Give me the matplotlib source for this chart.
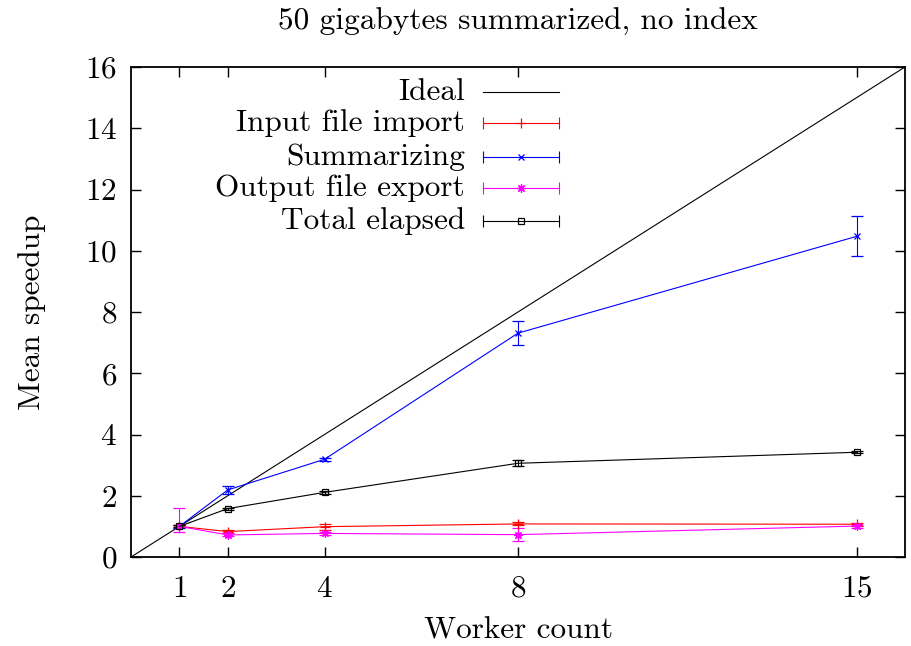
import numpy as np
import matplotlib
matplotlib.use('Agg')
import matplotlib.pyplot as plt

plt.rcParams['font.family'] = ['cmr10', 'DejaVu Serif']
plt.rcParams['axes.formatter.use_mathtext'] = True
plt.rcParams['mathtext.fontset'] = 'cm'

workers = [1, 2, 4, 8, 15]
ideal_x = [0, 16]

input_import = [1.0, 0.83, 0.99, 1.08, 1.07]
input_err = [0.05, 0.05, 0.10, 0.05, 0.05]

summarizing = [1.0, 2.19, 3.19, 7.31, 10.47]
summ_err = [0.05, 0.12, 0.05, 0.40, 0.65]

output_export = [1.0, 0.72, 0.77, 0.73, 1.01]
out_err_lo = [0.17, 0.05, 0.05, 0.22, 0.05]
out_err_hi = [0.61, 0.05, 0.05, 0.22, 0.05]

total = [1.0, 1.58, 2.11, 3.06, 3.42]
total_err = [0.03, 0.03, 0.05, 0.10, 0.04]

labels = ['Ideal', 'Input file import', 'Summarizing', 'Output file export', 'Total elapsed']

fs = 22.5
fig = plt.figure(figsize=(9.12, 6.46), dpi=100)
ax = fig.add_axes([131/912, 1-557/646, (905-131)/912, (557-67)/646])

lw = 0.8
ax.plot(ideal_x, ideal_x, color='black', lw=lw)

series = [
    (input_import, [input_err, input_err], '#ff0000', '+', 7, 'full'),
    (summarizing, [summ_err, summ_err], '#0000ff', 'x', 5, 'full'),
    (output_export, [out_err_lo, out_err_hi], '#ff00ff', (8, 2, 0), 6, 'full'),
    (total, [total_err, total_err], 'black', 's', 5, 'none'),
]
for vals, err, col, mk, ms, fill in series:
    ax.errorbar(workers, vals, yerr=err, color=col, lw=lw, elinewidth=lw,
                capsize=4, capthick=lw, marker=mk, ms=ms, mew=0.9,
                fillstyle=fill, mfc='none' if fill == 'none' else col)

# gnuplot-style key
rows = [0.9496, 0.886, 0.8163, 0.753, 0.6857]
key_cols = ['black', '#ff0000', '#0000ff', '#ff00ff', 'black']
key_mk = [None, '+', 'x', (8, 2, 0), 's']
key_ms = [0, 7, 5, 6, 5]
for i, lab in enumerate(labels):
    y = rows[i]
    ax.text(0.4315, y, lab, transform=ax.transAxes, ha='right', va='center', fontsize=fs)
    ax.plot([0.4548, 0.553], [y, y], transform=ax.transAxes, color=key_cols[i], lw=lw, clip_on=False)
    if key_mk[i] is not None:
        ax.plot([0.504], [y], transform=ax.transAxes, color=key_cols[i], marker=key_mk[i],
                ms=key_ms[i], mew=0.9, mfc='none' if key_mk[i] == 's' else key_cols[i])
        ax.plot([0.4548, 0.553], [y, y], transform=ax.transAxes, color=key_cols[i], lw=0,
                marker='|', ms=8, mew=lw)

ax.set_xlim(0, 16)
ax.set_ylim(0, 16)
ax.set_xticks(workers)
ax.set_yticks(np.arange(0, 17, 2))
ax.tick_params(direction='in', length=7, width=1, labelsize=fs, top=True, right=True)
ax.tick_params(axis='x', pad=13)
ax.tick_params(axis='y', pad=10)
for s in ax.spines.values():
    s.set_linewidth(1.3)

ax.set_xlabel('Worker count', fontsize=fs, labelpad=10)
ax.set_ylabel('Mean speedup', fontsize=fs, labelpad=28)
ax.set_title('50 gigabytes summarized, no index', fontsize=fs, pad=27)

fig.savefig('out.png', dpi=100)
